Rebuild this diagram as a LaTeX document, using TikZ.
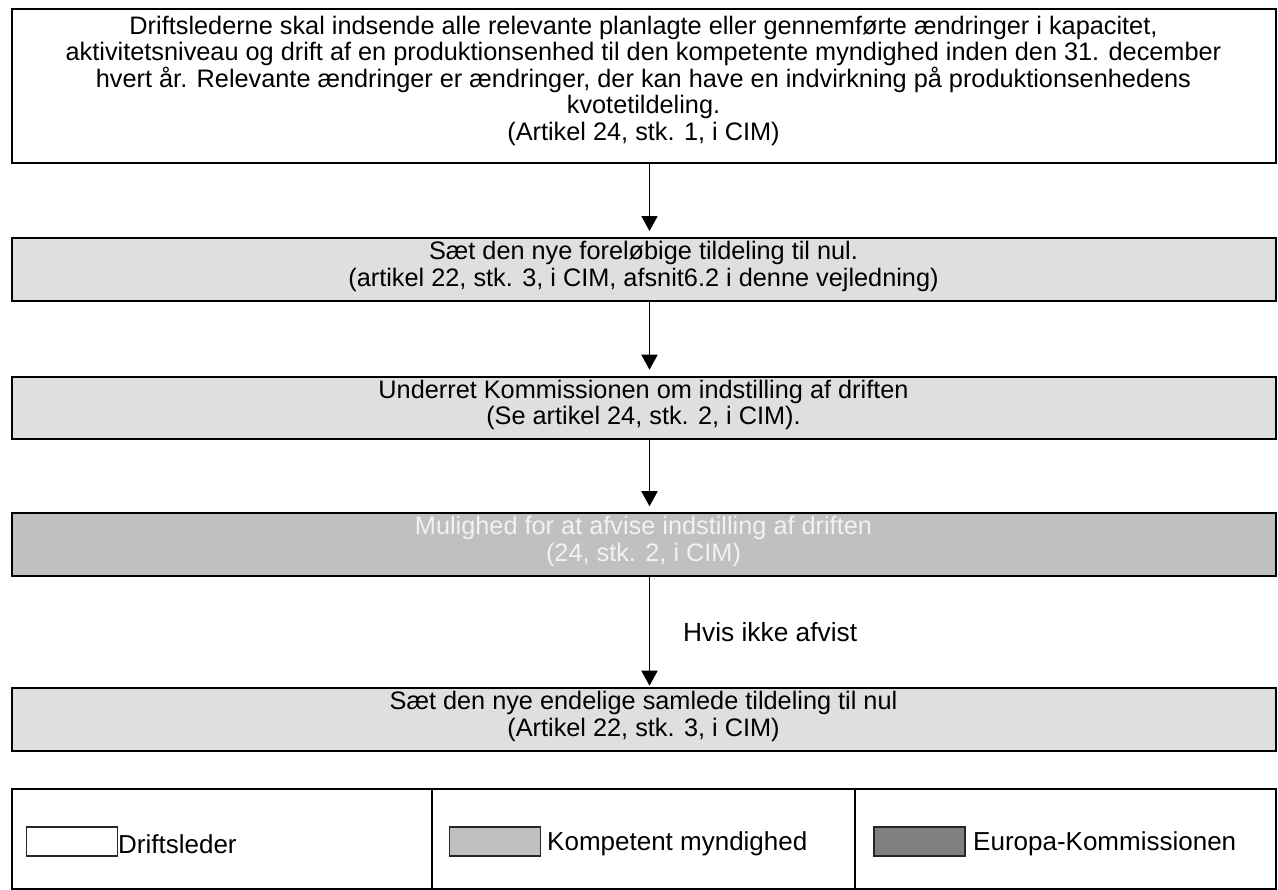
\documentclass[tikz,border=0pt]{standalone}
\usepackage{fontspec}
\setmainfont{Liberation Sans}
\usetikzlibrary{arrows.meta}
\definecolor{lightbox}{RGB}{223,223,223}
\definecolor{midbox}{RGB}{192,192,192}
\definecolor{darkbox}{RGB}{128,128,128}
\definecolor{paletext}{RGB}{242,242,242}
\tikzset{
  flowbox/.style={draw=black, line width=2pt, minimum width=1264pt, inner sep=0pt},
  boxtext/.style={inner sep=0pt, align=center, font=\fontsize{25.3}{26.6}\selectfont},
  arr/.style={line width=1.8pt, -{Triangle[length=15pt,width=16pt]}},
  swatch/.style={draw=black!85, line width=1.3pt, minimum width=91pt, minimum height=29pt, inner sep=0pt},
  legtext/.style={anchor=west, inner sep=0pt, font=\fontsize{26}{30}\selectfont},
  legframe/.style={draw=black, line width=2pt}
}
\begin{document}
\begin{tikzpicture}[x=1pt,y=-1pt]
\useasboundingbox (0,0) rectangle (1278,890);
\node[flowbox, fill=white, minimum height=154.5pt] (b1) at (643.5,86.25) {};
\node[boxtext, anchor=north] (b1t) at ([yshift=-7.5pt]b1.north)
  {Driftslederne skal indsende alle relevante planlagte eller gennemførte ændringer i kapacitet,\\
   aktivitetsniveau og drift af en produktionsenhed til den kompetente myndighed inden den 31. december\\
   hvert år. Relevante ændringer er ændringer, der kan have en indvirkning på produktionsenhedens\\
   kvotetildeling.\\
   (Artikel 24, stk. 1, i CIM)};
\node[flowbox, fill=lightbox, minimum height=62.7pt] (b2) at (643.5,269.4) {};
\node[boxtext] (b2t) at ([yshift=3pt]b2.center)
  {Sæt den nye foreløbige tildeling til nul.\\
   (artikel 22, stk. 3, i CIM, afsnit6.2 i denne vejledning)};
\node[flowbox, fill=lightbox, minimum height=62.3pt] (b3) at (643.5,407.9) {};
\node[boxtext] (b3t) at ([yshift=3pt]b3.center)
  {Underret Kommissionen om indstilling af driften\\
   (Se artikel 24, stk. 2, i CIM).};
\node[flowbox, fill=midbox, minimum height=62.5pt] (b4) at (643.5,544.5) {};
\node[boxtext, text=paletext] (b4t) at ([yshift=3pt]b4.center)
  {Mulighed for at afvise indstilling af driften\\
   (24, stk. 2, i CIM)};
\node[flowbox, fill=lightbox, minimum height=63pt] (b5) at (643.5,719.2) {};
\node[boxtext] (b5t) at ([yshift=3pt]b5.center)
  {Sæt den nye endelige samlede tildeling til nul\\
   (Artikel 22, stk. 3, i CIM)};
\draw[arr] ([xshift=6pt]b1.south) -- ([xshift=6pt,yshift=6pt]b2.north);
\draw[arr] ([xshift=6pt]b2.south) -- ([xshift=6pt,yshift=6pt]b3.north);
\draw[arr] ([xshift=6pt]b3.south) -- ([xshift=6pt,yshift=6pt]b4.north);
\draw[arr] ([xshift=6pt]b4.south) -- ([xshift=6pt,yshift=1pt]b5.north);
\node[anchor=west, inner sep=0pt, font=\fontsize{26.3}{30}\selectfont] (lbl) at (683,632) {Hvis ikke afvist};
% legend
\draw[legframe] (11.5,789) rectangle (1276,889);
\draw[legframe] (432,789) -- (432,889);
\draw[legframe] (855,789) -- (855,889);
\node[swatch, fill=white] (s1) at (72,841.5) {};
\node[swatch, fill=midbox] (s2) at (495,841.5) {};
\node[swatch, fill=darkbox] (s3) at (919.5,841.5) {};
\node[legtext] (t1) at (118,844) {Driftsleder};
\node[legtext] (t2) at (547,844) {Kompetent myndighed};
\node[legtext] (t3) at (973,844) {Europa-Kommissionen};
\end{tikzpicture}
\end{document}
